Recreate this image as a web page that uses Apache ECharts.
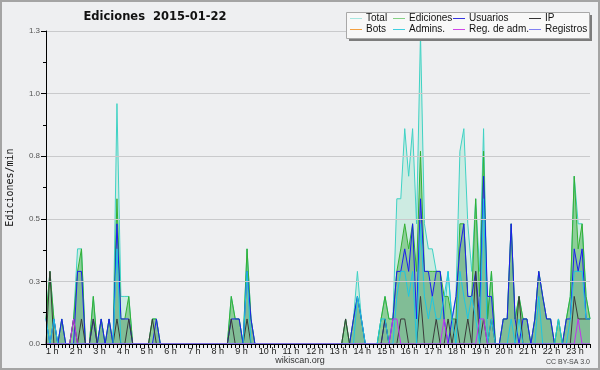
<!DOCTYPE html>
<html><head><meta charset="utf-8">
<script src="https://cdn.jsdelivr.net/npm/echarts@6/dist/echarts.min.js"></script>
<style>html,body{margin:0;padding:0;background:#eeeff1}#c{width:600px;height:370px}</style>
</head><body><div id="c"></div>
<script>
// hour tick labels (one per 6 bins)
const hourLabels = ['1 h','2 h','3 h','4 h','5 h','6 h','7 h','8 h','9 h','10 h','11 h','12 h',
  '13 h','14 h','15 h','16 h','17 h','18 h','19 h','20 h','21 h','22 h','23 h'];
const yTicks = [0, 0.25, 0.5, 0.75, 1.0, 1.25];

// edits per minute, one value per ~10 min bin (139 bins)
const total = [0.1,0.29,0.1,0,0.1,0,0,0.1,0.38,0.38,
 0,0,0.19,0,0.1,0,0.1,0,0.96,0.19,
 0.19,0.19,0,0,0,0,0,0.1,0.1,0,
 0,0,0,0,0,0,0,0,0,0,
 0,0,0,0,0,0,0,0.19,0.1,0.1,
 0,0.38,0.1,0,0,0,0,0,0,0,
 0,0,0,0,0,0,0,0,0,0,
 0,0,0,0,0,0,0.1,0,0.1,0.29,
 0.1,0,0,0,0,0.1,0.19,0.1,0.1,0.58,
 0.58,0.86,0.67,0.86,0.48,1.24,0.48,0.38,0.38,0.29,
 0.29,0.1,0.29,0.1,0.19,0.77,0.86,0.48,0.29,0.58,
 0.29,0.86,0.1,0.29,0,0,0.1,0.1,0.48,0.1,
 0.19,0.1,0.1,0,0.1,0.29,0.19,0.1,0.1,0,
 0.1,0,0.1,0.19,0.67,0.48,0.48,0.19,0.1];
const ediciones = [0.1,0.29,0.1,0,0.1,0,0,0.1,0.29,0.38,
 0,0,0.19,0,0.1,0,0.1,0,0.58,0.1,
 0.1,0.19,0,0,0,0,0,0.1,0.1,0,
 0,0,0,0,0,0,0,0,0,0,
 0,0,0,0,0,0,0,0.19,0.1,0.1,
 0,0.38,0.1,0,0,0,0,0,0,0,
 0,0,0,0,0,0,0,0,0,0,
 0,0,0,0,0,0,0.1,0,0.1,0.19,
 0.1,0,0,0,0,0.1,0.19,0.1,0.1,0.29,
 0.38,0.48,0.38,0.48,0.29,0.77,0.29,0.29,0.29,0.29,
 0.29,0.19,0.19,0.1,0.1,0.48,0.48,0.19,0.19,0.58,
 0.19,0.77,0.1,0.29,0,0,0.1,0.1,0.48,0.1,
 0.19,0.1,0.1,0,0.1,0.29,0.19,0.1,0.1,0,
 0.1,0,0.1,0.19,0.67,0.38,0.48,0.19,0.1];
const usuarios = [0.1,0,0.1,0,0.1,0,0,0,0.29,0.29,
 0,0,0.1,0,0.1,0,0.1,0,0.48,0.1,
 0.1,0.1,0,0,0,0,0,0,0.1,0,
 0,0,0,0,0,0,0,0,0,0,
 0,0,0,0,0,0,0,0.1,0.1,0.1,
 0,0.29,0.1,0,0,0,0,0,0,0,
 0,0,0,0,0,0,0,0,0,0,
 0,0,0,0,0,0,0,0,0.1,0.19,
 0.1,0,0,0,0,0,0.1,0,0.1,0.29,
 0.29,0.38,0.29,0.48,0.1,0.58,0.29,0.29,0.19,0.29,
 0.29,0.1,0,0.1,0.19,0.38,0.48,0.19,0.19,0.29,
 0.1,0.67,0.19,0.19,0,0,0.1,0.1,0.48,0.1,
 0,0.1,0.1,0,0.1,0.29,0.19,0.1,0.1,0,
 0,0,0.1,0.1,0.38,0.29,0.38,0.1,0.1];
const ip = [0,0.29,0,0,0,0,0,0.1,0,0.1,
 0,0,0.1,0,0,0,0,0,0.1,0,
 0,0.1,0,0,0,0,0,0.1,0,0,
 0,0,0,0,0,0,0,0,0,0,
 0,0,0,0,0,0,0,0.1,0,0,
 0,0.1,0,0,0,0,0,0,0,0,
 0,0,0,0,0,0,0,0,0,0,
 0,0,0,0,0,0,0.1,0,0,0,
 0,0,0,0,0,0,0.1,0,0,0,
 0.1,0.1,0,0,0,0.19,0,0,0,0.1,
 0,0,0.1,0,0.1,0,0,0.1,0,0.29,
 0,0.1,0,0.1,0,0,0,0,0,0,
 0.19,0,0,0,0,0,0,0,0,0,
 0,0,0,0,0.19,0.1,0.1,0.1,0.1];
const bots = [0,0,0,0,0,0,0,0,0,0, 0,0,0,0,0,0,0,0,0,0, 0,0,0,0,0,0,0,0,0,0,
 0,0,0,0,0,0,0,0,0,0, 0,0,0,0,0,0,0,0,0,0, 0,0,0,0,0,0,0,0,0,0,
 0,0,0,0,0,0,0,0,0,0, 0,0,0,0,0,0,0,0,0,0, 0,0,0,0,0,0,0,0,0,0,
 0,0,0,0,0,0,0,0,0,0, 0,0,0,0,0,0,0,0,0,0, 0,0,0,0,0,0,0,0,0,0,
 0,0,0,0,0,0,0,0,0,0, 0,0,0,0,0,0,0,0,0];
const admins = [0.1,0,0.1,0,0,0,0,0,0,0,
 0,0,0,0,0,0,0,0,0.38,0,
 0,0,0,0,0,0,0,0,0,0,
 0,0,0,0,0,0,0,0,0,0,
 0,0,0,0,0,0,0,0,0,0,
 0,0.29,0,0,0,0,0,0,0,0,
 0,0,0,0,0,0,0,0,0,0,
 0,0,0,0,0,0,0,0,0,0.19,
 0.1,0,0,0,0,0.1,0.1,0,0,0.19,
 0.29,0.29,0.19,0.29,0,0.48,0.19,0.1,0.19,0.1,
 0.1,0.19,0.29,0.1,0,0.29,0.19,0.1,0.19,0.1,
 0,0.58,0,0.1,0,0,0,0,0.1,0,
 0.1,0,0,0,0,0.19,0,0,0,0,
 0.1,0,0,0.1,0.29,0.29,0.29,0.1,0.1];
const regAdm = [0,0,0,0,0,0,0,0.1,0,0,
 0,0,0,0,0,0,0,0,0,0, 0,0,0,0,0,0,0,0,0,0, 0,0,0,0,0,0,0,0,0,0,
 0,0,0,0,0,0,0,0,0,0, 0,0,0,0,0,0,0,0,0,0, 0,0,0,0,0,0,0,0,0,0,
 0,0,0,0,0,0,0,0,0,0,
 0,0,0,0,0,0,0,0,0.1,0.1,
 0,0,0,0,0,0,0,0,0,0,
 0,0.1,0,0,0,0,0,0,0,0,
 0.1,0.1,0,0,0,0,0,0,0,0,
 0,0,0,0,0,0,0,0,0,0,
 0,0,0,0,0,0.1,0,0,0];
const registros = [0,0,0,0,0,0,0,0,0,0, 0,0,0,0,0,0,0,0,0,0, 0,0,0,0,0,0,0,0,0,0,
 0,0,0,0,0,0,0,0,0,0, 0,0,0,0,0,0,0,0,0,0, 0,0,0,0,0,0,0,0,0,0,
 0,0,0,0,0,0,0,0,0,0, 0,0,0,0,0,0,0,0,0,0, 0,0,0,0,0,0,0,0,0,0,
 0,0,0,0,0,0,0,0,0,0, 0,0,0,0,0,0,0,0,0,0, 0,0,0,0,0,0,0,0,0,0,
 0,0,0,0,0,0,0,0,0,0, 0,0,0,0,0,0,0,0,0];

const mk = arr => arr.map((v, i) => [i, v]);
const defs = [
  {name:'Total', data: total, color:'#3fd2c4', legend:'#a6e6e0', area:'rgba(100,220,180,0.24)'},
  {name:'Ediciones', data: ediciones, color:'#34b034', legend:'#84d084', area:'rgba(70,175,70,0.47)'},
  {name:'Usuarios', data: usuarios, color:'#1c1cf0', legend:'#3434e0', area:'rgba(0,0,120,0.08)'},
  {name:'IP', data: ip, color:'#3a3a3a', legend:'#333333'},
  {name:'Bots', data: bots, color:'#ff9a30', legend:'#f4a040'},
  {name:'Admins.', data: admins, color:'#1ec6e2', legend:'#40cfe0'},
  {name:'Reg. de adm.', data: regAdm, color:'#c232ee', legend:'#d044e6'},
  {name:'Registros', data: registros, color:'#6e6eff', legend:'#8080f2'}
];

const series = defs.map((d, k) => ({
  name: d.name, type: 'line', data: mk(d.data), showSymbol: false, symbol: 'none',
  lineStyle: {width: 1, color: d.color}, itemStyle: {color: d.legend},
  areaStyle: d.area ? {color: d.area, opacity: 1, origin: 'start'} : undefined,
  z: 2 + k * 0.01, silent: true
}));

const legendCommon = {
  orient: 'vertical', top: 13, padding: 0, itemGap: 0, itemWidth: 12, itemHeight: 1,
  icon: 'rect', z: 120, selectedMode: false,
  textStyle: {fontFamily: 'Liberation Sans', fontSize: 10, color: '#111', lineHeight: 11, padding: [0,0,0,-1]}
};

const chart = echarts.init(document.getElementById('c'), null, {renderer: 'canvas'});
chart.setOption({
  backgroundColor: '#eeeff1',
  animation: false,
  grid: {left: 46, right: 10, top: 31, bottom: 26, containLabel: false, outerBoundsMode: 'none'},
  xAxis: {
    type: 'value', min: 0, max: 138, interval: 6, z: 10,
    axisLine: {show: true, onZero: false, lineStyle: {color: '#000', width: 1}},
    axisTick: {show: true, length: 4, lineStyle: {color: '#000'}},
    minorTick: {show: true, splitNumber: 6, length: 4, lineStyle: {color: '#000'}},
    splitLine: {show: false},
    axisLabel: {
      align: 'left', margin: 3, fontSize: 9, color: '#222',
      fontFamily: 'Liberation Sans Narrow, Liberation Sans',
      formatter: v => hourLabels[v / 6] || ''
    }
  },
  yAxis: {
    type: 'value', min: yTicks[0], max: yTicks[yTicks.length - 1], interval: 0.25, z: 10,
    name: 'Ediciones/min', nameLocation: 'middle', nameGap: 31, nameRotate: 90,
    nameTextStyle: {fontFamily: 'DejaVu Sans Mono', fontSize: 10, color: '#111'},
    axisLine: {show: true, lineStyle: {color: '#000', width: 1}},
    axisTick: {show: true, length: 5, lineStyle: {color: '#000'}},
    minorTick: {show: true, splitNumber: 2, length: 3, lineStyle: {color: '#000'}},
    splitLine: {show: true, lineStyle: {color: '#c9cacc', width: 1}},
    axisLabel: {margin: 6, fontSize: 8, color: '#555', fontFamily: 'Liberation Sans',
      formatter: v => v.toFixed(1)}
  },
  legend: [
    Object.assign({}, legendCommon, {left: 350, data: ['Total', 'Bots']}),
    Object.assign({}, legendCommon, {left: 393, data: ['Ediciones', 'Admins.']}),
    Object.assign({}, legendCommon, {left: 453, data: ['Usuarios', 'Reg. de adm.']}),
    Object.assign({}, legendCommon, {left: 529, data: ['IP', 'Registros']})
  ],
  graphic: [
    {type: 'rect', z: 100, shape: {x: 1, y: 1, width: 598, height: 368},
      style: {fill: 'none', stroke: '#a4a4a4', lineWidth: 2}},
    {type: 'rect', z: 100, shape: {x: 349, y: 15, width: 243, height: 26},
      style: {fill: '#7c7c7c'}},
    {type: 'rect', z: 101, shape: {x: 346.5, y: 12.5, width: 243, height: 26},
      style: {fill: '#f8f8f8', stroke: '#a8a8a8', lineWidth: 1}},
    {type: 'text', z: 101, x: 155, y: 17,
      style: {text: 'Ediciones  2015-01-22', font: 'bold 11.5px "DejaVu Sans"', fill: '#111',
        align: 'center', verticalAlign: 'middle', textAlign: 'center', textVerticalAlign: 'middle'}},
    {type: 'text', z: 101, x: 300, y: 361,
      style: {text: 'wikiscan.org', font: '9px "Liberation Sans"', fill: '#333',
        align: 'center', verticalAlign: 'middle', textAlign: 'center', textVerticalAlign: 'middle'}},
    {type: 'text', z: 101, x: 590, y: 362,
      style: {text: 'CC BY-SA 3.0', font: '7px "Liberation Sans"', fill: '#444',
        align: 'right', verticalAlign: 'middle', textAlign: 'right', textVerticalAlign: 'middle'}}
  ],
  series: series
});
</script></body></html>
